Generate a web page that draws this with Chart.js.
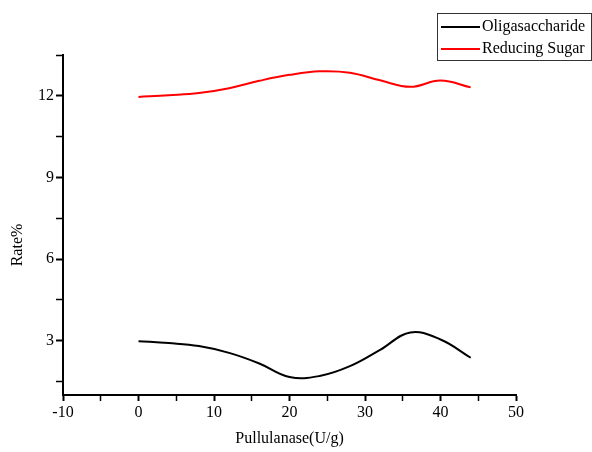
<!DOCTYPE html>
<html>
<head>
<meta charset="utf-8">
<script src="https://cdn.jsdelivr.net/npm/chart.js@4.4.0/dist/chart.umd.min.js"></script>
<style>
    html, body { margin: 0; padding: 0; background: #fff; }
    #wrap { width: 592px; height: 452px; }
</style>
</head>
<body>
<div id="wrap"><canvas id="chart" width="592" height="452"></canvas></div>
<script>
// Values
const pullulanase = [0, 4, 8, 12, 16, 20, 24, 28, 32, 36, 40, 44];
const oligosaccharide = [2.98, 2.91, 2.80, 2.55, 2.16, 1.66, 1.70, 2.06, 2.66, 3.30, 3.04, 2.37];
const reducingSugar = [11.96, 12.02, 12.10, 12.28, 12.55, 12.77, 12.90, 12.85, 12.57, 12.33, 12.56, 12.31];
const xTicks = [-10, -5, 0, 5, 10, 15, 20, 25, 30, 35, 40, 45, 50];
const yTicks = [1.5, 3, 4.5, 6, 7.5, 9, 10.5, 12, 13.5];
const seriesNames = ['Oligasaccharide', 'Reducing Sugar'];
const seriesColors = ['#000000', '#ff0000'];

const FONT = { family: "'Liberation Serif', 'Times New Roman', serif", size: 16 };

function toPoints(values) {
    return pullulanase.map((x, i) => ({ x: x, y: values[i] }));
}

// legend box drawn in the top right corner, like the original
const boxLegend = {
    id: 'boxLegend',
    afterDraw(chart) {
        const ctx = chart.ctx;
        const left = 437, top = 13, right = 591, rowH = 22;
        ctx.save();
        ctx.strokeStyle = '#333';
        ctx.lineWidth = 1;
        ctx.strokeRect(left + 0.5, top + 0.5, right - left, 47);
        ctx.font = FONT.size + 'px ' + FONT.family;
        ctx.textBaseline = 'middle';
        ctx.fillStyle = '#000';
        chart.data.datasets.forEach((ds, i) => {
            const y = top + 14 + i * rowH;
            ctx.strokeStyle = ds.borderColor;
            ctx.lineWidth = 2;
            ctx.beginPath();
            ctx.moveTo(left + 4, y);
            ctx.lineTo(left + 43, y);
            ctx.stroke();
            ctx.fillText(ds.label, left + 45, y);
        });
        ctx.restore();
    }
};

// y axis title sits a bit lower than the axis centre in the original
const yTitle = {
    id: 'yTitle',
    afterDraw(chart) {
        const ctx = chart.ctx;
        ctx.save();
        ctx.translate(18, 245);
        ctx.rotate(-Math.PI / 2);
        ctx.font = FONT.size + 'px ' + FONT.family;
        ctx.fillStyle = '#000';
        ctx.textAlign = 'center';
        ctx.textBaseline = 'middle';
        ctx.fillText('Rate%', 0, 0);
        ctx.restore();
    }
};

const ctx = document.getElementById('chart').getContext('2d');
const chart = new Chart(ctx, {
    type: 'line',
    data: {
        datasets: [
            {
                label: seriesNames[0],
                data: toPoints(oligosaccharide),
                borderColor: seriesColors[0],
                borderWidth: 2,
                pointRadius: 0,
                tension: 0.4,
                fill: false
            },
            {
                label: seriesNames[1],
                data: toPoints(reducingSugar),
                borderColor: seriesColors[1],
                borderWidth: 2,
                pointRadius: 0,
                tension: 0.4,
                fill: false
            }
        ]
    },
    options: {
        responsive: false,
        animation: false,
        layout: { padding: { left: 0, top: 55, right: 76, bottom: 0 } },
        plugins: {
            legend: { display: false },
            tooltip: { enabled: false }
        },
        scales: {
            x: {
                type: 'linear',
                min: -10,
                max: 50,
                afterBuildTicks: scale => { scale.ticks = xTicks.map(v => ({ value: v })); },
                afterFit: scale => { scale.height = 57; },
                border: { color: '#000', width: 2 },
                grid: {
                    drawOnChartArea: false,
                    drawTicks: true,
                    tickLength: 6,
                    tickColor: '#000',
                    tickWidth: c => (c.tick && c.tick.value % 10 === 0 ? 2 : 1.5)
                },
                ticks: {
                    color: '#000',
                    font: FONT,
                    padding: 2,
                    maxRotation: 0,
                    autoSkip: false,
                    callback: v => (v % 10 === 0 ? String(v) : '')
                },
                title: {
                    display: true,
                    text: 'Pullulanase(U/g)',
                    color: '#000',
                    font: FONT,
                    padding: { top: 0, bottom: 4 }
                }
            },
            y: {
                type: 'linear',
                min: 1,
                max: 13.5,
                afterBuildTicks: scale => { scale.ticks = yTicks.map(v => ({ value: v })); },
                afterFit: scale => { scale.width = 63; },
                border: { color: '#000', width: 2 },
                grid: {
                    drawOnChartArea: false,
                    drawTicks: true,
                    tickLength: 7,
                    tickColor: '#000',
                    tickWidth: c => (c.tick && c.tick.value % 3 === 0 ? 2 : 1.5)
                },
                ticks: {
                    color: '#000',
                    font: FONT,
                    padding: 2,
                    autoSkip: false,
                    callback: v => (v % 3 === 0 ? String(v) : '')
                }
            }
        }
    },
    plugins: [boxLegend, yTitle]
});
</script>
</body>
</html>
